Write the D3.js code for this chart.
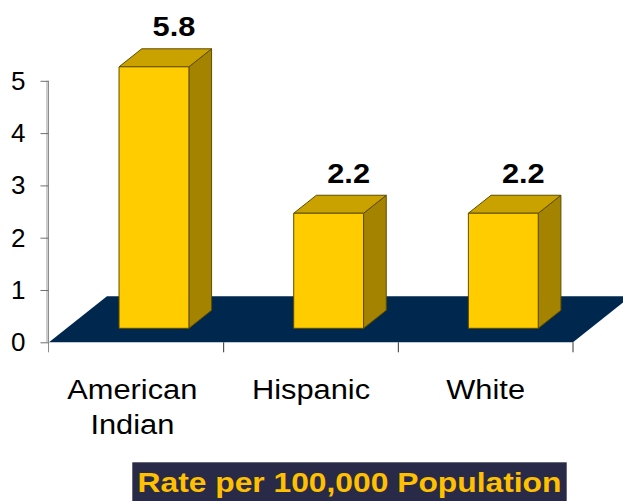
<!DOCTYPE html>
<html>
<head>
<meta charset="utf-8">
<script src="https://cdn.jsdelivr.net/npm/d3@7/dist/d3.min.js"></script>
<style>
  html, body { margin: 0; padding: 0; background: #ffffff; }
  svg { display: block; }
  text { font-family: Arial, "Liberation Sans", Helvetica, sans-serif; }
</style>
</head>
<body>
<svg id="chart" width="623" height="501"></svg>
<script>
// Rates per 100,000 population
const categories = ["American Indian", "Hispanic", "White"];
const values = [5.8, 2.2, 2.2];
const yTicks = [0, 1, 2, 3, 4, 5];
const yDomain = [0, 5];
const footerText = "Rate per 100,000 Population";

const W = 623, H = 501;
const svg = d3.select("#chart");

// Plot geometry (front plane of the floor)
const left = 49, right = 573;
const yBase = 342.3, yTop = 80.8;

// Oblique depth projection: each pixel of depth moves up 1 and right 1.26
const depthRatio = 1.26;
const floorDepth = 46;
const barDepthStart = 14, barDepthEnd = 32;
const proj = (x, y, d) => [x + d * depthRatio, y - d];

const x = d3.scaleBand()
  .domain(categories)
  .range([left, right])
  .paddingInner(0.6)
  .paddingOuter(0.3);

// Axis runs 0..5; taller bars are cut off at the top of the axis
const y = d3.scaleLinear().domain(yDomain).range([yBase, yTop]).clamp(true);

const poly = pts => "M" + pts.map(p => p.join(",")).join("L") + "Z";

// Floor
const floorPts = [
  proj(left, yBase, 0), proj(right, yBase, 0),
  proj(right, yBase, floorDepth), proj(left, yBase, floorDepth)
];
svg.append("path").attr("d", poly(floorPts)).attr("fill", "#00284f");

// Value axis line (wall edge)
svg.append("rect")
  .attr("x", left - 3).attr("y", yTop)
  .attr("width", 3).attr("height", yBase - yTop)
  .attr("fill", "#cdcdcd");
svg.append("line")
  .attr("x1", left - 0.5).attr("x2", left - 0.5)
  .attr("y1", yTop).attr("y2", yBase + 10)
  .attr("stroke", "#8c8c8c").attr("stroke-width", 1);

// Value axis ticks and labels
const yAxis = d3.axisLeft(y).tickValues(yTicks).tickSize(8).tickPadding(15).tickFormat(d3.format("d"));
const gy = svg.append("g").attr("transform", `translate(${left - 0.5},0)`).call(yAxis);
gy.select(".domain").remove();
gy.selectAll(".tick line").attr("stroke", "#6f6f6f").attr("stroke-width", 1);
gy.selectAll(".tick text")
  .attr("fill", "#000").attr("font-size", 26)
  .attr("font-family", "Arial, 'Liberation Sans', sans-serif");

// Category axis ticks under the floor front edge
const boundaries = [left].concat(categories.map(c => x(c) - x.step() * x.paddingInner() / 2 + x.step()));
boundaries[boundaries.length - 1] = right;
svg.append("g").selectAll("line").data(boundaries.slice(1)).join("line")
  .attr("x1", d => d).attr("x2", d => d)
  .attr("y1", yBase).attr("y2", yBase + 10)
  .attr("stroke", "#333").attr("stroke-width", 1);

// Bars
const colFront = "#ffcc00", colTop = "#c9a200", colSide = "#a38300", colEdge = "#5e4c00";
const bars = svg.append("g");
categories.forEach((c, i) => {
  const x0 = x(c), x1 = x(c) + x.bandwidth();
  const y0 = yBase, y1 = y(values[i]);
  const a = barDepthStart, b = barDepthEnd;
  const g = bars.append("g")
    .attr("stroke", colEdge).attr("stroke-width", 1).attr("stroke-linejoin", "round");
  // right side
  g.append("path").attr("fill", colSide)
    .attr("d", poly([proj(x1, y0, a), proj(x1, y0, b), proj(x1, y1, b), proj(x1, y1, a)]));
  // top
  g.append("path").attr("fill", colTop)
    .attr("d", poly([proj(x0, y1, a), proj(x1, y1, a), proj(x1, y1, b), proj(x0, y1, b)]));
  // front
  g.append("path").attr("fill", colFront)
    .attr("d", poly([proj(x0, y0, a), proj(x1, y0, a), proj(x1, y1, a), proj(x0, y1, a)]));
});

// Value labels
svg.append("g").selectAll("text").data(values).join("text")
  .attr("transform", (d, i) => {
    const cx = x(categories[i]) + x.bandwidth() / 2 + barDepthStart * depthRatio + 20;
    const ty = y(d) - barDepthEnd - 12.5;
    return `translate(${cx},${ty}) scale(1.08,1)`;
  })
  .attr("text-anchor", "middle")
  .attr("font-size", 28.5).attr("font-weight", "bold").attr("fill", "#000")
  .text(d => d3.format(".1f")(d));

// Category labels, wrapped on spaces
const catG = svg.append("g");
categories.forEach((c, i) => {
  const cx = x(c) + x.bandwidth() / 2;
  const lines = c.split(" ");
  lines.forEach((ln, j) => {
    catG.append("text")
      .attr("transform", `translate(${cx - (lines.length > 1 ? 4 : 0)},${399.3 + j * 34.7}) scale(1.1,1)`)
      .attr("text-anchor", "middle")
      .attr("font-size", 28).attr("fill", "#000")
      .text(ln);
  });
});

// Footer caption, stretched to fill its band
svg.append("rect")
  .attr("x", 132.3).attr("y", 462.3)
  .attr("width", 434.4).attr("height", H - 462.3)
  .attr("fill", "#292a47");
const foot = svg.append("text")
  .attr("font-size", 27).attr("font-weight", "bold").attr("fill", "#ffc000")
  .text(footerText);
const natural = foot.node().getComputedTextLength();
const footScale = 424 / natural;
foot.attr("transform", `translate(137.5,491.5) scale(${footScale},1)`);
</script>
</body>
</html>
